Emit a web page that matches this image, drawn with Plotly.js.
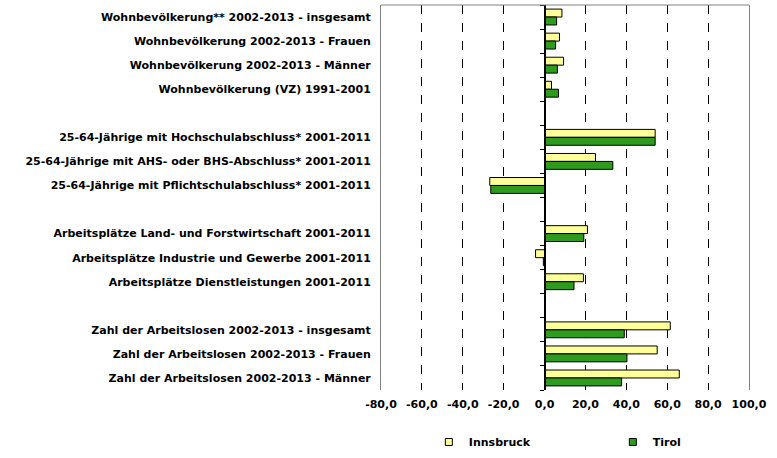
<!DOCTYPE html>
<html>
<head>
<meta charset="utf-8">
<script src="https://cdn.plot.ly/plotly-3.0.1.min.js"></script>
<style>html,body{margin:0;padding:0;background:#fff;}#chart{width:777px;height:458px;}</style>
</head>
<body>
<div id="chart"></div>
<script>
var categories = [
  "Wohnbevölkerung** 2002-2013 - insgesamt",
  "Wohnbevölkerung 2002-2013 - Frauen",
  "Wohnbevölkerung 2002-2013 - Männer",
  "Wohnbevölkerung (VZ) 1991-2001",
  " ",
  "25-64-Jährige mit Hochschulabschluss* 2001-2011",
  "25-64-Jährige mit AHS- oder BHS-Abschluss* 2001-2011",
  "25-64-Jährige mit Pflichtschulabschluss* 2001-2011",
  "  ",
  "Arbeitsplätze Land- und Forstwirtschaft 2001-2011",
  "Arbeitsplätze Industrie und Gewerbe 2001-2011",
  "Arbeitsplätze Dienstleistungen 2001-2011",
  "   ",
  "Zahl der Arbeitslosen 2002-2013 - insgesamt",
  "Zahl der Arbeitslosen 2002-2013 - Frauen",
  "Zahl der Arbeitslosen 2002-2013 - Männer"
];
var innsbruck = [8.5, 7.3, 9.3, 3.4, null, 54.1, 24.9, -26.8, null, 21.0, -4.4, 19.0, null, 61.5, 55.1, 65.9];
var tirol     = [5.9, 5.4, 6.3, 6.8, null, 54.1, 33.4, -26.3, null, 19.2, -0.6, 14.4, null, 39.0, 40.3, 37.7];
var seriesNames = ["Innsbruck", "Tirol"];
var xTickVals = [-80, -60, -40, -20, 0, 20, 40, 60, 80, 100];
var xTickText = xTickVals.map(function (v) { return v.toFixed(1).replace(".", ","); });

var colIns = "#FFFF99", colTir = "#2E9A1E";
var boldFont = {family: "DejaVu Sans, Verdana, sans-serif", size: 11, color: "#000", weight: "bold"};

var boundaries = [];
for (var i = 0; i <= categories.length; i++) boundaries.push(i - 0.5);

var traces = [
  {type: "bar", orientation: "h", name: seriesNames[0], y: categories, x: innsbruck,
   marker: {color: colIns, line: {color: "#000", width: 1}}, showlegend: false, hoverinfo: "x+y"},
  {type: "bar", orientation: "h", name: seriesNames[1], y: categories, x: tirol,
   marker: {color: colTir, line: {color: "#000", width: 1}}, showlegend: false, hoverinfo: "x+y"},
  {type: "scatter", mode: "markers", name: seriesNames[0], x: [null], y: [null], yaxis: "y2",
   legend: "legend",
   marker: {symbol: "square", size: 7, color: colIns, line: {color: "#000", width: 1}}},
  {type: "scatter", mode: "markers", name: seriesNames[1], x: [null], y: [null], yaxis: "y2",
   legend: "legend2",
   marker: {symbol: "square", size: 7, color: colTir, line: {color: "#000", width: 1}}}
];

var legendBase = {orientation: "h", xanchor: "left", y: -0.135, yanchor: "middle",
                  font: boldFont, itemwidth: 30, bgcolor: "rgba(0,0,0,0)", borderwidth: 0};

var layout = {
  width: 777, height: 458,
  margin: {l: 381, r: 28, t: 5, b: 68, pad: 0, autoexpand: false},
  paper_bgcolor: "#fff", plot_bgcolor: "#fff",
  barmode: "group", bargap: 0.34, bargroupgap: 0,
  showlegend: true,
  legend: Object.assign({}, legendBase, {x: 0.13}),
  legend2: Object.assign({}, legendBase, {x: 0.63}),
  xaxis: {range: [-80, 100], tickvals: xTickVals, ticktext: xTickText,
          showgrid: true, gridcolor: "#000", griddash: "dash", gridwidth: 1,
          zeroline: false, showline: false, ticks: "", ticklabelstandoff: 6,
          tickfont: boldFont, fixedrange: true},
  yaxis: {type: "category", categoryorder: "array", categoryarray: categories,
          range: [categories.length - 0.5, -0.5], autorange: false,
          showgrid: false, zeroline: false, ticks: "", ticklabelstandoff: 7,
          showline: true, mirror: true, linecolor: "#808080", linewidth: 1,
          tickfont: boldFont, fixedrange: true},
  yaxis2: {overlaying: "y", anchor: "free", position: 80 / 180, side: "left",
           range: [categories.length - 0.5, -0.5], autorange: false,
           tickvals: boundaries, showticklabels: false, ticks: "outside", ticklen: 4,
           tickcolor: "#000", tickwidth: 1, showgrid: false, zeroline: false,
           showline: true, linecolor: "#000", linewidth: 2, fixedrange: true},
  shapes: [{type: "line", xref: "paper", yref: "paper", x0: 0, x1: 1, y0: 1, y1: 1,
            line: {color: "#808080", width: 1}}]
};

Plotly.newPlot("chart", traces, layout, {displayModeBar: false, staticPlot: true});
</script>
</body>
</html>
